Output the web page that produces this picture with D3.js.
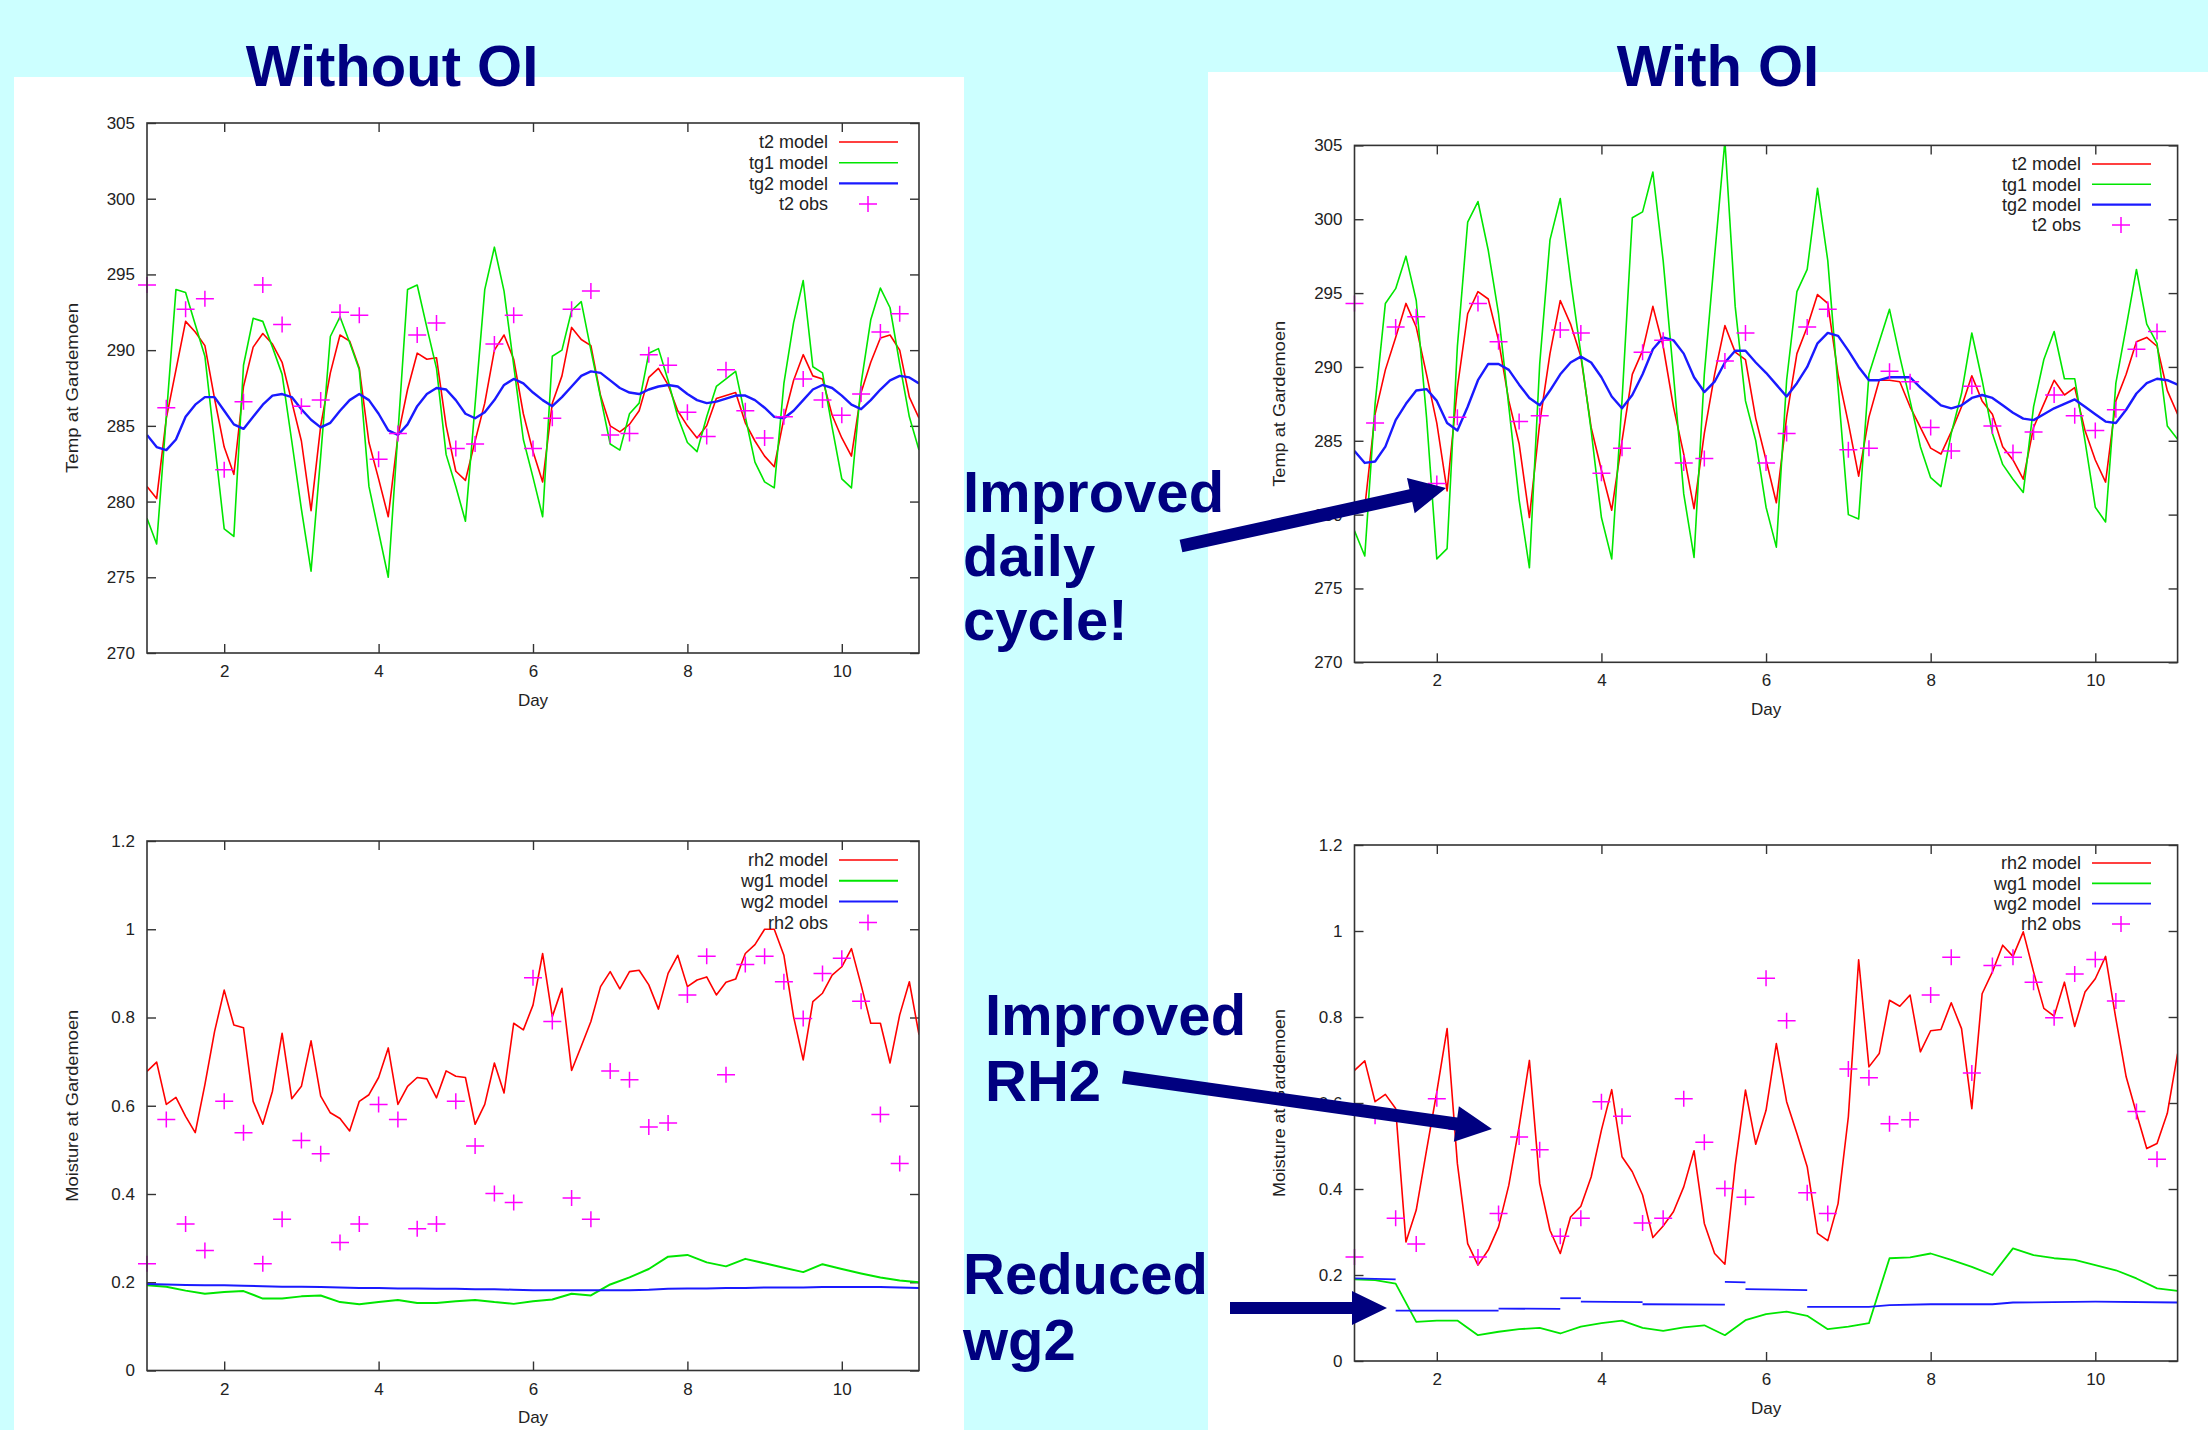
<!DOCTYPE html>
<html>
<head>
<meta charset="utf-8">
<script src="https://cdn.jsdelivr.net/npm/d3@7"></script>
<style>
body { margin: 0; background: #ccffff; }
svg { display: block; }
</style>
</head>
<body>
<script>
// model output every 3 h, slow soil fields read every 6 h, obs every 6 h
var modelDays = d3.range(81).map(function(i) { return 1 + i / 8; });
var slowDays = d3.range(41).map(function(i) { return 1 + i / 4; });
var obsDays = d3.range(40).map(function(i) { return 1 + i / 4; });

var dayTicks = [2, 4, 6, 8, 10];
var tempTicks = [270, 275, 280, 285, 290, 295, 300, 305];
var moistTicks = [0, 0.2, 0.4, 0.6, 0.8, 1, 1.2];

var tempLegend = ["t2 model", "tg1 model", "tg2 model", "t2 obs"];
var moistLegend = ["rh2 model", "wg1 model", "wg2 model", "rh2 obs"];

// ---- temperature, without OI
var t2NoOi = [281.0,280.2,285.5,288.7,291.9,291.2,290.3,286.8, 283.6,281.8,287.6,290.2,291.1,290.4,289.2,286.6,
  284.0,279.4,285.0,288.5,291.0,290.6,288.8,283.9, 281.5,279.0,284.3,287.4,289.8,289.4,289.5,285.0,
  282.0,281.4,284.0,286.5,290.0,291.0,289.4,285.8, 283.3,281.3,286.5,288.3,291.5,290.7,290.3,287.0,
  285.0,284.6,285.1,286.0,288.2,288.8,287.7,286.0, 285.0,284.2,285.0,286.8,287.0,287.2,285.2,284.0,
  283.0,282.3,285.5,288.0,289.7,288.3,288.1,285.7, 284.2,283.0,287.2,289.2,290.8,291.0,290.0,286.9, 285.5];
var tg1NoOi = [278.9,277.2,285.6,294.0,293.8,291.7,289.6,283.9, 278.2,277.7,289.0,292.1,291.9,290.2,288.4,284.0,
  279.5,275.4,283.0,290.9,292.2,290.5,288.7,281.0, 278.0,275.0,284.5,294.0,294.3,291.5,288.8,283.1,
  281.0,278.7,286.4,294.0,296.8,293.9,289.0,284.1, 281.6,279.0,289.6,290.0,292.6,293.2,290.0,286.9,
  283.8,283.4,285.8,286.5,289.8,290.1,288.0,285.6, 283.9,283.3,285.6,287.6,288.1,288.6,285.6,282.6,
  281.3,280.9,287.8,291.8,294.6,288.9,288.5,284.9, 281.5,280.9,287.8,292.0,294.1,292.8,289.1,285.6, 283.4];
var tg2NoOi = [284.4,283.6,283.4,284.1,285.6,286.4,286.9,286.9, 286.0,285.1,284.8,285.6,286.4,287.0,287.1,286.9,
  286.1,285.4,284.9,285.2,286.0,286.7,287.1,286.7, 285.8,284.7,284.4,285.1,286.3,287.1,287.5,287.4,
  286.7,285.8,285.5,285.9,286.7,287.7,288.1,287.8, 287.2,286.7,286.3,286.9,287.6,288.3,288.6,288.5,
  288.0,287.5,287.2,287.1,287.4,287.6,287.7,287.6, 287.1,286.7,286.5,286.6,286.8,287.0,287.0,286.7,
  286.2,285.6,285.5,286.0,286.7,287.4,287.7,287.5, 287.0,286.4,286.1,286.7,287.4,288.0,288.3,288.2, 287.8];

// ---- temperature, with OI
var t2Oi = [280.8,280.5,286.8,289.8,292.0,294.3,292.7,289.5, 286.2,281.6,288.6,293.6,295.1,294.6,291.8,287.7,
  284.8,279.8,286.2,290.9,294.5,292.9,290.7,285.9, 283.0,280.3,285.0,289.5,291.1,294.1,291.4,287.3,
  284.1,280.4,285.5,289.5,292.8,291.0,290.5,286.5, 283.7,280.8,286.6,290.9,292.7,294.9,294.3,289.5,
  286.2,282.6,286.6,289.1,289.1,289.0,287.3,285.9, 284.5,284.1,285.6,287.3,289.4,287.7,286.8,284.6,
  283.7,282.4,285.9,287.5,289.1,288.1,288.6,285.7, 283.7,282.2,287.7,289.5,291.7,292.0,291.4,288.4, 286.8];
var tg1Oi = [278.9,277.2,287.5,294.3,295.3,297.5,294.5,286.6, 277.0,277.7,291.4,299.8,301.2,297.9,293.6,287.3,
  281.0,276.4,290.2,298.6,301.4,295.9,290.9,285.7, 279.8,277.0,287.7,300.1,300.5,303.2,297.2,289.5,
  281.4,277.1,289.5,297.5,305.3,294.1,287.7,285.0, 280.5,277.8,289.1,295.1,296.6,302.1,297.2,288.6,
  280.0,279.7,289.5,291.7,293.9,290.7,287.7,284.6, 282.5,281.9,285.5,288.2,292.3,289.1,285.5,283.4,
  282.4,281.5,287.3,290.5,292.4,289.2,289.2,285.0, 280.5,279.5,288.9,292.7,296.6,292.9,291.6,286.0, 285.1];
var tg2Oi = [284.3,283.5,283.6,284.6,286.4,287.5,288.4,288.5, 287.7,286.2,285.7,287.3,289.1,290.2,290.2,289.8,
  288.8,287.9,287.4,288.4,289.5,290.3,290.7,290.3, 289.3,288.0,287.2,288.1,289.5,291.2,292.0,291.8,
  290.9,289.3,288.3,289.0,290.3,291.1,291.1,290.3, 289.6,288.8,288.0,288.9,290.0,291.6,292.3,292.1,
  291.1,290.0,289.1,289.1,289.3,289.3,289.3,288.6, 288.0,287.4,287.2,287.4,287.9,288.1,287.9,287.4,
  286.9,286.5,286.4,286.8,287.2,287.5,287.8,287.3, 286.8,286.3,286.2,287.1,288.2,288.9,289.2,289.1, 288.8];

var t2Obs = [294.3,286.2,292.7,293.4, 282.1,286.6,294.3,291.7, 286.3,286.7,292.5,292.3, 282.8,284.5,291.0,291.8,
  283.5,283.8,290.4,292.3, 283.5,285.5,292.7,293.9, 284.4,284.5,289.7,289.0, 285.9,284.3,288.7,286.0,
  284.2,285.6,288.1,286.7, 285.7,287.1,291.2,292.4];

// ---- moisture, without OI
var rh2NoOi = [0.678,0.699,0.603,0.619,0.576,0.539,0.648,0.768, 0.862,0.783,0.777,0.610,0.558,0.633,0.764,0.616,
  0.644,0.747,0.622,0.584,0.571,0.543,0.610,0.625, 0.664,0.731,0.603,0.644,0.664,0.661,0.618,0.679,
  0.667,0.664,0.558,0.603,0.697,0.629,0.787,0.772, 0.828,0.945,0.802,0.866,0.680,0.735,0.791,0.870,
  0.904,0.865,0.904,0.907,0.874,0.819,0.900,0.941, 0.870,0.885,0.892,0.851,0.880,0.887,0.945,0.965,
  1.000,1.000,0.941,0.802,0.704,0.836,0.855,0.896, 0.915,0.956,0.874,0.787,0.787,0.697,0.806,0.881, 0.761];
var wg1NoOi = [0.193,0.190,0.181,0.174, 0.178,0.180,0.163,0.163, 0.168,0.170,0.155,0.150, 0.155,0.160,0.153,0.153,
  0.157,0.160,0.155,0.151, 0.157,0.161,0.174,0.170, 0.195,0.211,0.230,0.258, 0.262,0.245,0.236,0.253,
  0.243,0.233,0.223,0.241, 0.230,0.220,0.211,0.204, 0.200];
var wg2NoOi = [0.196,0.195,0.194,0.193, 0.193,0.192,0.191,0.190, 0.190,0.189,0.188,0.187, 0.187,0.186,0.186,0.185,
  0.185,0.184,0.184,0.183, 0.182,0.182,0.182,0.182, 0.182,0.182,0.183,0.185, 0.186,0.186,0.187,0.187,
  0.188,0.188,0.188,0.189, 0.189,0.189,0.189,0.188, 0.187];

// ---- moisture, with OI
var rh2Oi = [0.676,0.698,0.603,0.620,0.587,0.277,0.351,0.490, 0.626,0.773,0.459,0.273,0.223,0.258,0.312,0.409,
  0.545,0.699,0.413,0.304,0.250,0.335,0.360,0.428, 0.537,0.631,0.475,0.440,0.386,0.287,0.314,0.347,
  0.405,0.489,0.320,0.250,0.225,0.455,0.630,0.504, 0.583,0.738,0.603,0.529,0.452,0.297,0.280,0.366,
  0.568,0.933,0.684,0.715,0.839,0.825,0.851,0.719, 0.768,0.771,0.833,0.773,0.587,0.854,0.905,0.967,
  0.941,0.998,0.905,0.820,0.802,0.881,0.778,0.858, 0.889,0.941,0.796,0.661,0.576,0.494,0.506,0.576, 0.715];
var wg1Oi = [0.190,0.188,0.180,0.091, 0.094,0.094,0.060,0.068, 0.074,0.077,0.064,0.080, 0.088,0.094,0.077,0.070,
  0.078,0.083,0.060,0.095, 0.109,0.115,0.105,0.074, 0.080,0.088,0.239,0.241, 0.250,0.235,0.219,0.200,
  0.262,0.246,0.239,0.235, 0.223,0.211,0.192,0.169, 0.163];
// wg2 with OI comes in separate forecast pieces
var wg2OiDays = [[1, 1.5], [1.5, 2.75], [2.75, 3.5], [3.5, 3.75], [3.75, 4.5], [4.5, 5.5], [5.5, 5.75],
  [5.75, 6.5], [6.5, 7.25, 7.5, 8, 8.75, 9, 10, 11]];
var wg2OiVals = [[0.192, 0.190], [0.117, 0.117], [0.122, 0.121], [0.146, 0.146], [0.138, 0.137], [0.132, 0.131],
  [0.184, 0.183], [0.167, 0.165], [0.126, 0.126, 0.130, 0.132, 0.132, 0.136, 0.138, 0.136]];

var rh2Obs = [0.242,0.569,0.332,0.272, 0.610,0.539,0.242,0.343, 0.521,0.491,0.290,0.332, 0.603,0.569,0.321,0.332,
  0.610,0.509,0.401,0.381, 0.890,0.791,0.391,0.343, 0.679,0.659,0.552,0.561, 0.851,0.939,0.670,0.920,
  0.939,0.881,0.798,0.900, 0.934,0.837,0.580,0.469];

var RED = "#ff0000", GREEN = "#00e600", BLUE = "#1a1aff", MAG = "#ff00ff", NAVY = "#000080";

var svg = d3.select("body").append("svg")
  .attr("width", 2208).attr("height", 1430);

svg.append("rect").attr("width", 2208).attr("height", 1430).attr("fill", "#ccffff");
svg.append("rect").attr("x", 14).attr("y", 77).attr("width", 950).attr("height", 1353).attr("fill", "#fff");
svg.append("rect").attr("x", 1208).attr("y", 72).attr("width", 1000).attr("height", 1358).attr("fill", "#fff");

function cross(x, y) {
  return "M" + (x - 9) + "," + y + "H" + (x + 9) + "M" + x + "," + (y - 8) + "V" + (y + 8);
}

function panel(p) {
  var g = svg.append("g").attr("font-family", "Liberation Sans, Arial, sans-serif");
  var x = d3.scaleLinear().domain([1, 11]).range([p.left, p.right]);
  var y = d3.scaleLinear().domain(p.yDom).range([p.bottom, p.top]);
  var fmt = function(d) { return String(+d.toFixed(1)); };

  svg.append("clipPath").attr("id", "clip" + p.id).append("rect")
    .attr("x", p.left).attr("y", p.top)
    .attr("width", p.right - p.left).attr("height", p.bottom - p.top);

  var axes = [
    [d3.axisBottom(x).tickValues(dayTicks).tickFormat(fmt), 0, p.bottom],
    [d3.axisTop(x).tickValues(dayTicks).tickFormat(""), 0, p.top],
    [d3.axisLeft(y).tickValues(p.yTicks).tickFormat(fmt), p.left, 0],
    [d3.axisRight(y).tickValues(p.yTicks).tickFormat(""), p.right, 0]
  ];
  axes.forEach(function(a) {
    var ag = g.append("g").attr("transform", "translate(" + a[1] + "," + a[2] + ")")
      .call(a[0].tickSizeInner(-9).tickSizeOuter(0).tickPadding(12));
    ag.select(".domain").remove();
    ag.selectAll("line").attr("stroke", "#333").attr("stroke-width", 1.4);
    ag.selectAll("text").attr("font-size", 17).attr("fill", "#222").attr("font-family", null);
  });

  var lines = g.append("g").attr("clip-path", "url(#clip" + p.id + ")").attr("fill", "none");
  p.series.forEach(function(s) {
    var line = d3.line().x(function(d) { return x(d[0]); }).y(function(d) { return y(d[1]); });
    s.pieces.forEach(function(pc) {
      lines.append("path").attr("d", line(d3.zip(pc[0], pc[1])))
        .attr("stroke", s.color).attr("stroke-width", s.width).attr("stroke-linejoin", "round");
    });
  });

  g.append("path")
    .attr("d", d3.zip(obsDays, p.obs).map(function(d) { return cross(x(d[0]), y(d[1])); }).join(""))
    .attr("stroke", MAG).attr("stroke-width", 1.5).attr("fill", "none");

  g.append("rect").attr("x", p.left).attr("y", p.top)
    .attr("width", p.right - p.left).attr("height", p.bottom - p.top)
    .attr("fill", "none").attr("stroke", "#333").attr("stroke-width", 1.6);

  // legend
  p.legend.forEach(function(lab, i) {
    var ly = p.legY + i * p.legStep;
    g.append("text").attr("x", p.legX).attr("y", ly).attr("dy", "0.35em")
      .attr("text-anchor", "end").attr("font-size", 18).attr("fill", "#222").text(lab);
    if (i < 3) {
      var s = p.series[i];
      g.append("line").attr("x1", p.legX + 11).attr("x2", p.legX + 70).attr("y1", ly).attr("y2", ly)
        .attr("stroke", s.color).attr("stroke-width", s.width);
    } else {
      g.append("path").attr("d", cross(p.legX + 40, ly)).attr("stroke", MAG).attr("stroke-width", 1.5);
    }
  });

  g.append("text").attr("x", (p.left + p.right) / 2).attr("y", p.bottom + 47).attr("dy", "0.35em")
    .attr("text-anchor", "middle").attr("font-size", 17).attr("fill", "#222").text("Day");
  g.append("text")
    .attr("transform", "translate(" + (p.left - 75) + "," + (p.top + p.bottom) / 2 + ") rotate(-90)")
    .attr("dy", "0.35em").attr("text-anchor", "middle").attr("font-size", 17).attr("fill", "#222")
    .attr("textLength", p.yLabLen).attr("lengthAdjust", "spacingAndGlyphs")
    .text(p.yLabel);
}

function one(days, vals) { return [[days, vals]]; }

panel({ id: "tl", left: 147, right: 919, top: 123, bottom: 653, yDom: [270, 305], yTicks: tempTicks,
  yLabel: "Temp at Gardemoen", yLabLen: 170, legend: tempLegend, legX: 828, legY: 142, legStep: 20.7,
  obs: t2Obs,
  series: [
    { color: RED, width: 1.6, pieces: one(modelDays, t2NoOi) },
    { color: GREEN, width: 1.6, pieces: one(modelDays, tg1NoOi) },
    { color: BLUE, width: 2.4, pieces: one(modelDays, tg2NoOi) }
  ] });

panel({ id: "tr", left: 1354.5, right: 2177.6, top: 145.4, bottom: 662.3, yDom: [270, 305], yTicks: tempTicks,
  yLabel: "Temp at Gardemoen", yLabLen: 166, legend: tempLegend, legX: 2081, legY: 164, legStep: 20.3,
  obs: t2Obs,
  series: [
    { color: RED, width: 1.6, pieces: one(modelDays, t2Oi) },
    { color: GREEN, width: 1.6, pieces: one(modelDays, tg1Oi) },
    { color: BLUE, width: 2.4, pieces: one(modelDays, tg2Oi) }
  ] });

panel({ id: "bl", left: 147, right: 919, top: 841, bottom: 1370.5, yDom: [0, 1.2], yTicks: moistTicks,
  yLabel: "Moisture at Gardemoen", yLabLen: 192, legend: moistLegend, legX: 828, legY: 860, legStep: 20.8,
  obs: rh2Obs,
  series: [
    { color: RED, width: 1.6, pieces: one(modelDays, rh2NoOi) },
    { color: GREEN, width: 2, pieces: one(slowDays, wg1NoOi) },
    { color: BLUE, width: 2, pieces: one(slowDays, wg2NoOi) }
  ] });

panel({ id: "br", left: 1354.5, right: 2177.6, top: 845, bottom: 1361, yDom: [0, 1.2], yTicks: moistTicks,
  yLabel: "Moisture at Gardemoen", yLabLen: 188, legend: moistLegend, legX: 2081, legY: 863, legStep: 20.3,
  obs: rh2Obs,
  series: [
    { color: RED, width: 1.6, pieces: one(modelDays, rh2Oi) },
    { color: GREEN, width: 1.8, pieces: one(slowDays, wg1Oi) },
    { color: BLUE, width: 1.8, pieces: d3.zip(wg2OiDays, wg2OiVals) }
  ] });

// titles and notes
var notes = svg.append("g").attr("font-family", "Liberation Sans, Arial, sans-serif")
  .attr("font-weight", "bold").attr("font-size", 58).attr("fill", NAVY);
notes.append("text").attr("x", 392).attr("y", 86).attr("text-anchor", "middle").text("Without OI");
notes.append("text").attr("x", 1718).attr("y", 86).attr("text-anchor", "middle").text("With OI");
[["Improved", 963, 512], ["daily", 963, 576], ["cycle!", 963, 640],
 ["Improved", 985, 1035], ["RH2", 985, 1101],
 ["Reduced", 963, 1294], ["wg2", 963, 1360]].forEach(function(t) {
  notes.append("text").attr("x", t[1]).attr("y", t[2]).text(t[0]);
});

function arrow(x1, y1, x2, y2, w, hl, hw) {
  var dx = x2 - x1, dy = y2 - y1, len = Math.sqrt(dx * dx + dy * dy);
  var ux = dx / len, uy = dy / len, nx = -uy, ny = ux;
  var bx = x2 - ux * hl, by = y2 - uy * hl;
  var pts = [
    [x1 + nx * w / 2, y1 + ny * w / 2], [bx + nx * w / 2, by + ny * w / 2], [bx + nx * hw, by + ny * hw],
    [x2, y2],
    [bx - nx * hw, by - ny * hw], [bx - nx * w / 2, by - ny * w / 2], [x1 - nx * w / 2, y1 - ny * w / 2]
  ];
  svg.append("path").attr("d", "M" + pts.join("L") + "Z").attr("fill", NAVY);
}
arrow(1181, 546, 1446, 488, 13, 36, 18);
arrow(1123, 1077, 1492, 1129, 13, 36, 18);
arrow(1230, 1308, 1387, 1308, 12, 35, 17);
</script>
</body>
</html>
